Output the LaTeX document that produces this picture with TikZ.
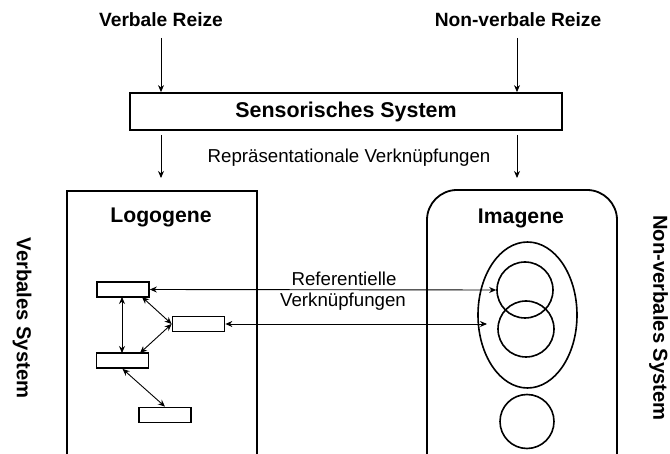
\documentclass[tikz,border=0pt]{standalone}
\usepackage{fontspec}
\setmainfont{Liberation Sans}
\usetikzlibrary{arrows.meta,shapes.geometric}
\begin{document}
\begin{tikzpicture}[x=1pt,y=-1pt,
  every node/.style={inner sep=0pt},
  bigtitle/.style={font=\fontsize{21.4}{25}\selectfont\bfseries},
  title/.style={font=\fontsize{19.2}{23}\selectfont\bfseries},
  boxtitle/.style={font=\fontsize{21.2}{25}\selectfont\bfseries},
  side/.style={font=\fontsize{20.2}{24}\selectfont\bfseries},
  plain/.style={font=\fontsize{18.7}{22}\selectfont},
  thick box/.style={draw,line width=1.8pt},
  wordbox/.style={draw,line width=1.7pt,minimum width=52pt,minimum height=15pt},
  ring/.style={draw,line width=1.6pt,circle,minimum size=56pt},
  flow/.style={line width=0.9pt,-{Stealth[length=7pt,width=6pt]}},
  link/.style={line width=0.9pt,{Stealth[length=7pt,width=6pt]}-{Stealth[length=7pt,width=6pt]}}]
\useasboundingbox (0,0) rectangle (670,454);
\clip (0,0) rectangle (670,454);

% stimuli
\node[title] (vr) at (161,20) {Verbale Reize};
\node[title] (nvr) at (518,20) {Non-verbale Reize};
\coordinate (vr0) at (161,38);
\coordinate (nvr0) at (517,38);

% sensory system
\node[thick box,bigtitle,minimum width=432pt,minimum height=37pt] (sens) at (346,111.5) {Sensorisches System};
\draw[flow] (vr0) -- (vr0 |- sens.north);
\draw[flow] (nvr0) -- (nvr0 |- sens.north);

\node[plain] (rep) at (349,158) {Repräsentationale Verknüpfungen};
\coordinate (lg0) at (161,178);
\coordinate (im0) at (517,178);
\coordinate (lg1) at (161,135);
\coordinate (im1) at (517,135);
\draw[flow] (lg1) -- (lg0);
\draw[flow] (im1) -- (im0);

% verbal system
\draw[thick box] (67,500) -- (67,191) -- (257,191) -- (257,500);
\node[boxtitle] (logo) at (161,217) {Logogene};
\node[wordbox] (w1) at (123,289.5) {};
\node[wordbox] (w2) at (198.5,324) {};
\node[wordbox] (w3) at (122.5,360.5) {};
\node[wordbox] (w4) at (165,415) {};
\coordinate (v1) at (122,297);
\coordinate (v3) at (122,353);
\coordinate (d1) at (142,297);
\coordinate (d3) at (140,353);
\draw[link] (v1) -- (v3);
\draw[link] (d1) -- (w2.west);
\draw[link] (d3) -- (w2.west);
\draw[link] (w3.south) -- (w4.north);

% non-verbal system
\draw[thick box,rounded corners=30pt] (427,500) rectangle (617,190);
\node[boxtitle] (imag) at (521,218) {Imagene};
\node[draw,line width=1.6pt,ellipse,minimum width=99pt,minimum height=146pt] (ell) at (527.5,315) {};
\node[ring] (c1) at (525,290) {};
\node[ring] (c2) at (526,329) {};
\node[ring,minimum size=54pt] (c3) at (527,421.5) {};
\coordinate (e2) at (487,324);

% referential links
\draw[link] (w1.east) -- (c1.west);
\draw[link] (w2.east) -- (e2);
\node[plain] (ref1) at (344,279) {Referentielle};
\node[plain] (ref2) at (343,302) {Verknüpfungen};

% system labels
\node[side,rotate=-90] (vs) at (22,318) {Verbales System};
\node[side,rotate=-90] (nvs) at (658.5,318) {Non-verbales System};
\end{tikzpicture}
\end{document}
